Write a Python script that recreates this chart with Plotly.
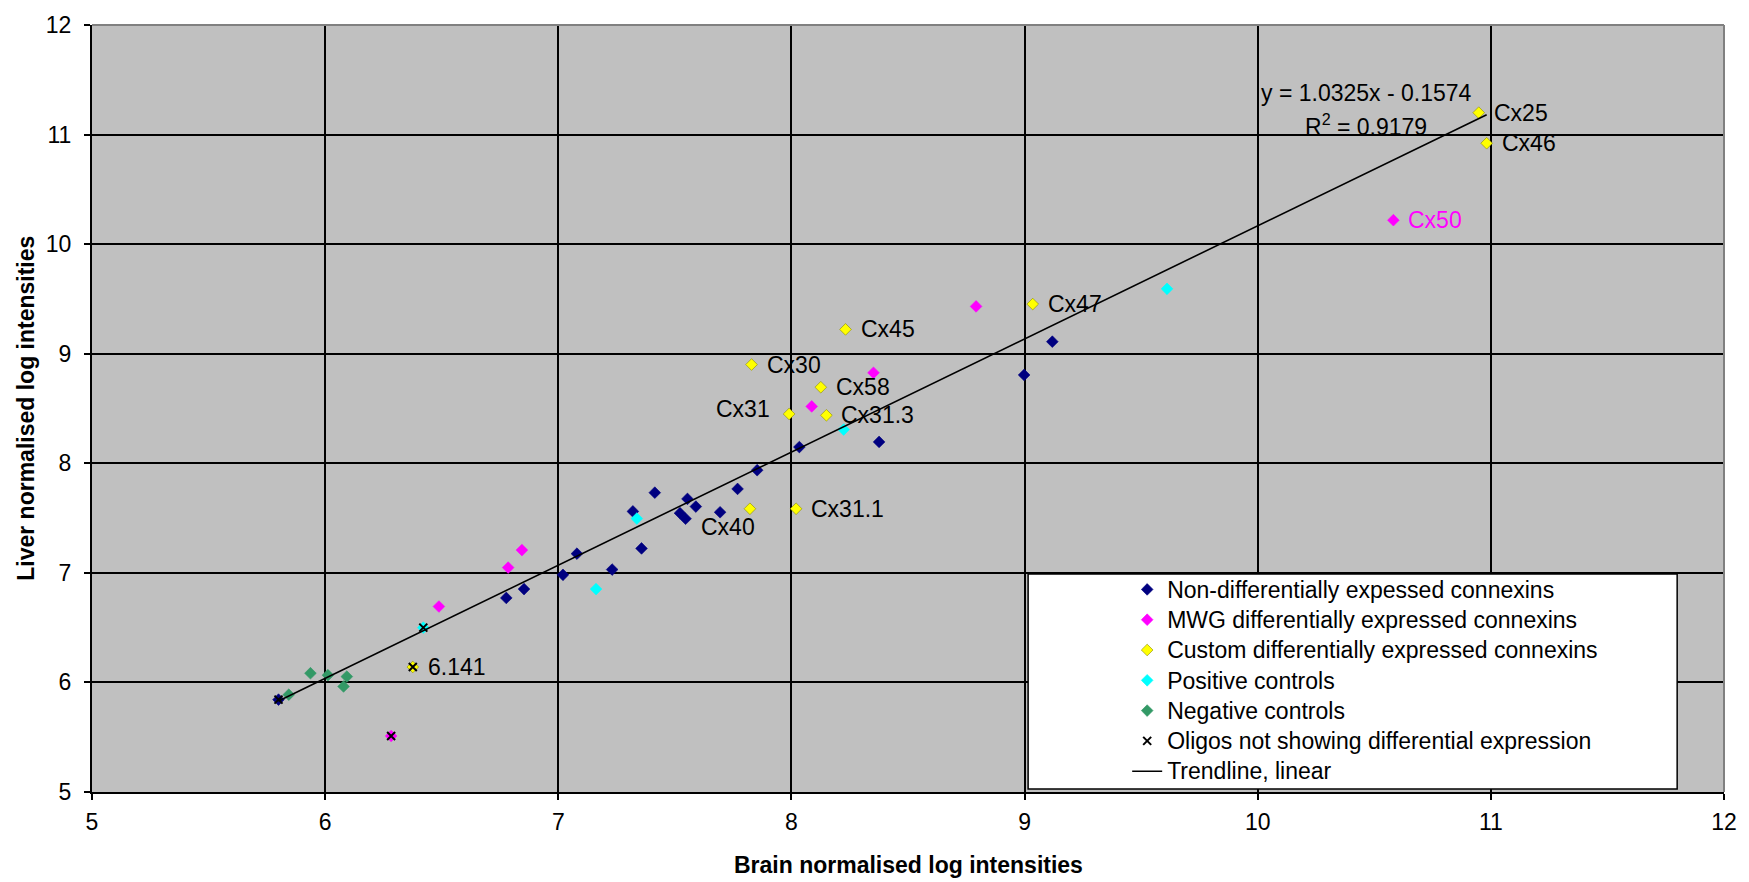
import plotly.graph_objects as go

# Brain vs liver normalised log intensities per oligo group
navy_x = [5.80, 6.777, 6.853, 7.020, 7.080, 7.231, 7.320, 7.357, 7.414, 7.522,
          7.546, 7.554, 7.590, 7.694, 7.769, 7.853, 8.034, 8.376, 8.998, 9.119]
navy_y = [5.843, 6.771, 6.852, 6.982, 7.175, 7.030, 7.561, 7.223, 7.732, 7.545,
          7.494, 7.675, 7.605, 7.553, 7.766, 7.937, 8.148, 8.195, 8.806, 9.110]

magenta_x = [6.283, 6.488, 6.785, 6.844, 8.087, 8.352, 8.792, 10.582]
magenta_y = [5.511, 6.693, 7.048, 7.208, 8.519, 8.826, 9.432, 10.219]

yellow_x = [6.376, 7.822, 8.020, 7.990, 8.150, 8.126, 7.829, 8.232, 9.035, 10.948, 10.982]
yellow_y = [6.141, 7.585, 7.585, 8.450, 8.438, 8.694, 8.901, 9.222, 9.453, 11.200, 10.921]

cyan_x = [6.421, 7.162, 7.337, 8.224, 9.611]
cyan_y = [6.500, 6.852, 7.495, 8.308, 9.592]

green_x = [5.844, 5.937, 6.012, 6.079, 6.093]
green_y = [5.888, 6.084, 6.066, 5.963, 6.053]

oligo_x = [5.80, 6.283, 6.376, 6.421]
oligo_y = [5.843, 5.511, 6.141, 6.500]

# Linear trendline coefficients
slope = 1.0325
intercept = -0.1574
r_squared = 0.9179

# Point labels: (series, index, text, side, yshift)
point_labels = [
    ("yellow", 0, "6.141", "right", 0),
    ("yellow", 2, "Cx31.1", "right", 0),
    ("yellow", 3, "Cx31", "left", 5),
    ("yellow", 4, "Cx31.3", "right", 0),
    ("yellow", 5, "Cx58", "right", 0),
    ("yellow", 6, "Cx30", "right", 0),
    ("yellow", 7, "Cx45", "right", 0),
    ("yellow", 8, "Cx47", "right", 0),
    ("yellow", 9, "Cx25", "right", 0),
    ("yellow", 10, "Cx46", "right", 0),
    ("magenta", 7, "Cx50", "right", 0),
    ("navy", 10, "Cx40", "right", -8),
]

x_ticks = [5, 6, 7, 8, 9, 10, 11, 12]
y_ticks = [5, 6, 7, 8, 9, 10, 11, 12]

FONT = "Liberation Sans, Arial, sans-serif"
series = {
    "navy": (navy_x, navy_y, "#000080", "Non-differentially expessed connexins"),
    "magenta": (magenta_x, magenta_y, "#FF00FF", "MWG differentially expressed connexins"),
    "yellow": (yellow_x, yellow_y, "#FFFF00", "Custom differentially expressed connexins"),
    "cyan": (cyan_x, cyan_y, "#00FFFF", "Positive controls"),
    "green": (green_x, green_y, "#339966", "Negative controls"),
}


def legend_name(text):
    # slightly larger legend text while keeping compact row spacing
    return f'<span style="font-size:23px">{text}</span>'


fig = go.Figure()
for key, (xs, ys, col, name) in series.items():
    edge = "#8a8a00" if key == "yellow" else col
    fig.add_trace(go.Scatter(
        x=xs, y=ys, mode="markers", name=legend_name(name),
        marker=dict(symbol="diamond", size=9, color=col,
                    line=dict(color=edge, width=0.6)),
    ))

fig.add_trace(go.Scatter(
    x=oligo_x, y=oligo_y, mode="markers",
    name=legend_name("Oligos not showing differential expression"),
    marker=dict(symbol="x-thin-open", size=8, color="black",
                line=dict(color="black", width=2)),
))

all_x = navy_x + magenta_x + yellow_x + cyan_x + green_x
x_lo, x_hi = min(all_x), max(all_x)
fig.add_trace(go.Scatter(
    x=[x_lo, x_hi], y=[slope * x_lo + intercept, slope * x_hi + intercept],
    mode="lines", name=legend_name("Trendline, linear"),
    line=dict(color="black", width=1.6),
))

annotations = []
for key, idx, text, side, dy in point_labels:
    xs, ys, col, _ = series[key]
    annotations.append(dict(
        x=xs[idx], y=ys[idx], xref="x", yref="y", text=text, showarrow=False,
        xanchor="left" if side == "right" else "right", yanchor="middle",
        xshift=13 if side == "right" else -17, yshift=dy,
        font=dict(family=FONT, size=23,
                  color="#FF00FF" if key == "magenta" else "black"),
    ))

# Trendline equation
annotations.append(dict(
    x=10.466, y=11.375, xref="x", yref="y", showarrow=False,
    xanchor="center", yanchor="middle",
    text=f"y = {slope:.4f}x - {abs(intercept):.4f}",
    font=dict(family=FONT, size=23, color="black"),
))
annotations.append(dict(
    x=10.466, y=11.085, xref="x", yref="y", showarrow=False,
    xanchor="center", yanchor="middle",
    text=f"R<sup>2</sup> = {r_squared:.4f}",
    font=dict(family=FONT, size=23, color="black"),
))

# Axis titles
annotations.append(dict(
    x=0.5, y=-0.0956, xref="paper", yref="paper", showarrow=False,
    xanchor="center", yanchor="middle",
    text="<b>Brain normalised log intensities</b>",
    font=dict(family=FONT, size=23, color="black"),
))
annotations.append(dict(
    x=-0.0409, y=0.5, xref="paper", yref="paper", showarrow=False,
    xanchor="center", yanchor="middle",
    text="<b>Liver normalised log intensities</b>", textangle=-90,
    font=dict(family=FONT, size=23, color="black"),
))

shapes = [
    # legend frame
    dict(type="rect", xref="paper", yref="paper", x0=0.5736, x1=0.9713,
         y0=0.004, y1=0.2842, fillcolor="white",
         line=dict(color="black", width=1.5), layer="above"),
    # plot area frame on top and right
    dict(type="line", xref="paper", yref="paper", x0=0, x1=1, y0=1, y1=1,
         line=dict(color="#808080", width=2), layer="above"),
    dict(type="line", xref="paper", yref="paper", x0=1, x1=1, y0=0, y1=1,
         line=dict(color="#808080", width=2), layer="above"),
]

axis_common = dict(
    showgrid=True, gridcolor="black", gridwidth=1.5,
    showline=True, linecolor="black", linewidth=2,
    ticks="outside", ticklen=6, tickwidth=1.5, tickcolor="black",
    zeroline=False, tickfont=dict(family=FONT, size=23, color="black"),
)

fig.update_layout(
    width=1749, height=882,
    margin=dict(l=92, r=20, t=18, b=90),
    paper_bgcolor="white", plot_bgcolor="#C0C0C0",
    xaxis=dict(range=[5, 12], tickvals=x_ticks, ticklabelstandoff=2, **axis_common),
    yaxis=dict(range=[5, 12], tickvals=y_ticks, ticklabelstandoff=8, **axis_common),
    showlegend=True,
    legend=dict(x=0.6343, y=0.2904, xanchor="left", yanchor="top",
                bgcolor="rgba(0,0,0,0)", borderwidth=0,
                font=dict(family=FONT, size=21, color="black")),
    annotations=annotations, shapes=shapes,
)

fig.write_html("out.html")
